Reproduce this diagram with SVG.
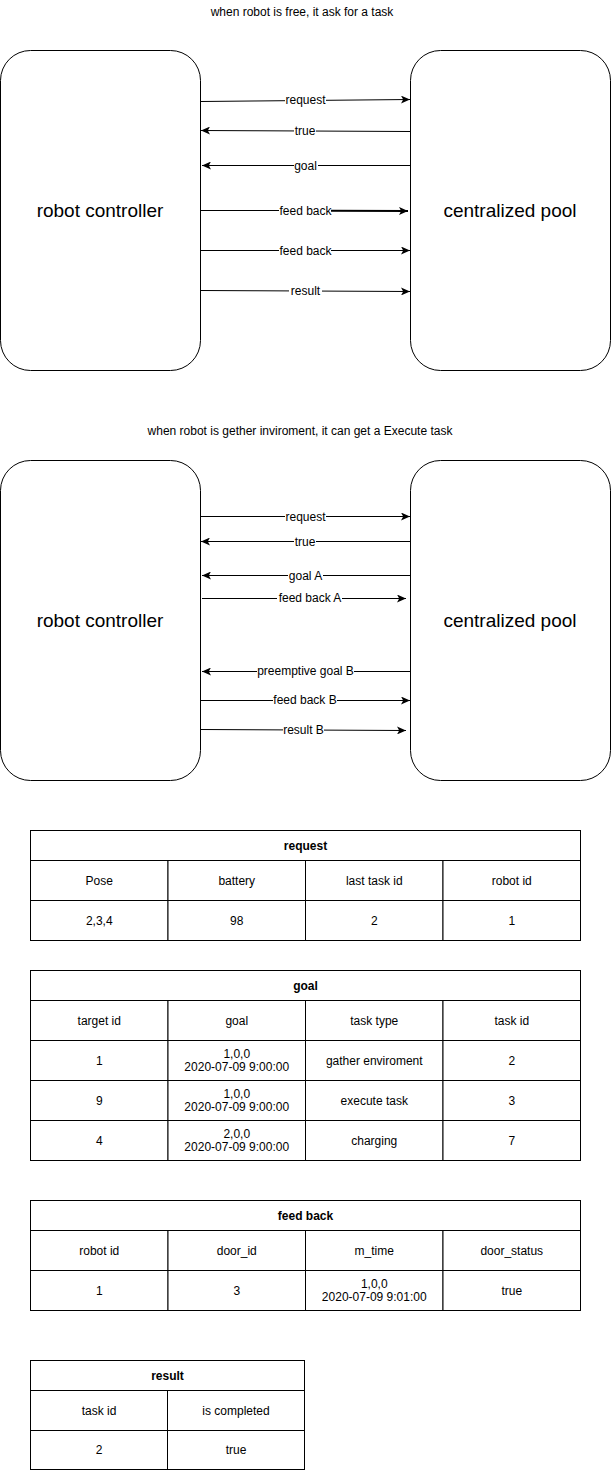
<svg xmlns="http://www.w3.org/2000/svg" width="611" height="1471" viewBox="0 0 611 1471">
<style>
text{font-family:"Liberation Sans",Arial,Helvetica,sans-serif;fill:#000;text-anchor:middle;dominant-baseline:central}
.t12{font-size:12px}
.big{font-size:19px}
.b{font-weight:bold}
.box{fill:#fff;stroke:#000;stroke-width:1}
.cell{fill:#fff;stroke:#000;stroke-width:1}
.edge{fill:none;stroke:#000;stroke-width:1}
.lbg{fill:#fff;stroke:none}
</style>
<defs>
<marker id="arr" viewBox="0 0 9 8" refX="9" refY="4" markerWidth="9" markerHeight="8" markerUnits="userSpaceOnUse" orient="auto">
<path d="M0,0 L9,4 L0,8 L2.2,4 Z" fill="#000"/>
</marker>
</defs>
<rect width="611" height="1471" fill="#fff"/>

<text class="t12" x="302" y="12">when robot is free, it ask for a task</text>
<text class="t12" x="300" y="431">when robot is gether inviroment, it can get a Execute task</text>

<g id="rc1"><rect class="box" x="0.5" y="50.5" width="200" height="320" rx="30" ry="30"/><text class="big" x="100" y="210">robot controller</text></g>
<g id="cp1"><rect class="box" x="410.5" y="50.5" width="200" height="320" rx="30" ry="30"/><text class="big" x="510" y="210">centralized pool</text></g>
<g id="rc2"><rect class="box" x="0.5" y="460.5" width="200" height="320" rx="30" ry="30"/><text class="big" x="100" y="620">robot controller</text></g>
<g id="cp2"><rect class="box" x="410.5" y="460.5" width="200" height="320" rx="30" ry="30"/><text class="big" x="510" y="620">centralized pool</text></g>

<g id="connectors">
<g id="e1"><path class="edge" d="M201,101.5 L410,99.5" marker-end="url(#arr)"/><rect class="lbg" x="285" y="94" width="41" height="12"/><text class="t12" x="305.5" y="100">request</text></g>
<g id="e2"><path class="edge" d="M410,131.5 L201,130.5" marker-end="url(#arr)"/><rect class="lbg" x="294" y="125" width="22" height="12"/><text class="t12" x="305" y="131">true</text></g>
<g id="e3"><path class="edge" d="M410,165.5 L202,165.5" marker-end="url(#arr)"/><rect class="lbg" x="294" y="159" width="24" height="12"/><text class="t12" x="305.5" y="165.5">goal</text></g>
<g id="e4"><path class="edge" d="M201,210.5 L280,210.5"/><path fill="none" stroke="#000" stroke-width="2" d="M330,210.8 L408,211" marker-end="url(#arr)"/><rect class="lbg" x="279" y="204" width="52" height="12"/><text class="t12" x="305.5" y="210.5">feed back</text></g>
<g id="e5"><path class="edge" d="M201,250.5 L410,250.5" marker-end="url(#arr)"/><rect class="lbg" x="279" y="244" width="52" height="12"/><text class="t12" x="305.5" y="250.5">feed back</text></g>
<g id="e6"><path class="edge" d="M201,290.5 L410,291.5" marker-end="url(#arr)"/><rect class="lbg" x="289" y="285" width="33" height="12"/><text class="t12" x="305.5" y="291">result</text></g>

<g id="f1"><path class="edge" d="M201,516.5 L410,516.5" marker-end="url(#arr)"/><rect class="lbg" x="285" y="510" width="41" height="12"/><text class="t12" x="305.5" y="516.5">request</text></g>
<g id="f2"><path class="edge" d="M410,541.5 L201,541.5" marker-end="url(#arr)"/><rect class="lbg" x="294" y="535" width="22" height="12"/><text class="t12" x="305" y="541.5">true</text></g>
<g id="f3"><path class="edge" d="M410,575.5 L202,575.5" marker-end="url(#arr)"/><rect class="lbg" x="288" y="569" width="35" height="12"/><text class="t12" x="305.5" y="575.5">goal A</text></g>
<g id="f4"><path class="edge" d="M202,598.5 L406,598.5" marker-end="url(#arr)"/><rect class="lbg" x="277" y="592" width="65" height="12"/><text class="t12" x="310" y="598">feed back A</text></g>
<g id="f5"><path class="edge" d="M410,671.5 L202,671.5" marker-end="url(#arr)"/><rect class="lbg" x="257" y="665" width="97" height="12"/><text class="t12" x="305.5" y="671">preemptive goal B</text></g>
<g id="f6"><path class="edge" d="M201,700.5 L410,700.5" marker-end="url(#arr)"/><rect class="lbg" x="273" y="694" width="64" height="12"/><text class="t12" x="305" y="700">feed back B</text></g>
<g id="f7"><path class="edge" d="M201,729.5 L406,730.5" marker-end="url(#arr)"/><rect class="lbg" x="283" y="724" width="41" height="12"/><text class="t12" x="303.5" y="730">result B</text></g>
</g>

<g id="table-request">
<rect class="cell" x="30.5" y="830.5" width="550" height="30"/>
<rect class="cell" x="30.5" y="860.5" width="137.5" height="40"/>
<rect class="cell" x="168" y="860.5" width="137.5" height="40"/>
<rect class="cell" x="305.5" y="860.5" width="137.5" height="40"/>
<rect class="cell" x="443" y="860.5" width="137.5" height="40"/>
<rect class="cell" x="30.5" y="900.5" width="137.5" height="40"/>
<rect class="cell" x="168" y="900.5" width="137.5" height="40"/>
<rect class="cell" x="305.5" y="900.5" width="137.5" height="40"/>
<rect class="cell" x="443" y="900.5" width="137.5" height="40"/>
<text class="t12 b" x="305.5" y="845.5">request</text>
<text class="t12" x="99.25" y="880.5">Pose</text>
<text class="t12" x="236.75" y="880.5">battery</text>
<text class="t12" x="374.25" y="880.5">last task id</text>
<text class="t12" x="511.75" y="880.5">robot id</text>
<text class="t12" x="99.25" y="920.5">2,3,4</text>
<text class="t12" x="236.75" y="920.5">98</text>
<text class="t12" x="374.25" y="920.5">2</text>
<text class="t12" x="511.75" y="920.5">1</text>
</g>

<g id="table-goal">
<rect class="cell" x="30.5" y="970.5" width="550" height="30"/>
<rect class="cell" x="30.5" y="1000.5" width="137.5" height="40"/>
<rect class="cell" x="168" y="1000.5" width="137.5" height="40"/>
<rect class="cell" x="305.5" y="1000.5" width="137.5" height="40"/>
<rect class="cell" x="443" y="1000.5" width="137.5" height="40"/>
<rect class="cell" x="30.5" y="1040.5" width="137.5" height="40"/>
<rect class="cell" x="168" y="1040.5" width="137.5" height="40"/>
<rect class="cell" x="305.5" y="1040.5" width="137.5" height="40"/>
<rect class="cell" x="443" y="1040.5" width="137.5" height="40"/>
<rect class="cell" x="30.5" y="1080.5" width="137.5" height="40"/>
<rect class="cell" x="168" y="1080.5" width="137.5" height="40"/>
<rect class="cell" x="305.5" y="1080.5" width="137.5" height="40"/>
<rect class="cell" x="443" y="1080.5" width="137.5" height="40"/>
<rect class="cell" x="30.5" y="1120.5" width="137.5" height="40"/>
<rect class="cell" x="168" y="1120.5" width="137.5" height="40"/>
<rect class="cell" x="305.5" y="1120.5" width="137.5" height="40"/>
<rect class="cell" x="443" y="1120.5" width="137.5" height="40"/>
<text class="t12 b" x="305.5" y="985.5">goal</text>
<text class="t12" x="99.25" y="1020.5">target id</text>
<text class="t12" x="236.75" y="1020.5">goal</text>
<text class="t12" x="374.25" y="1020.5">task type</text>
<text class="t12" x="511.75" y="1020.5">task id</text>
<text class="t12" x="99.25" y="1060.5">1</text>
<text class="t12" x="236.75" y="1054">1,0,0</text>
<text class="t12" x="236.75" y="1067">2020-07-09 9:00:00</text>
<text class="t12" x="374.25" y="1060.5">gather enviroment</text>
<text class="t12" x="511.75" y="1060.5">2</text>
<text class="t12" x="99.25" y="1100.5">9</text>
<text class="t12" x="236.75" y="1094">1,0,0</text>
<text class="t12" x="236.75" y="1107">2020-07-09 9:00:00</text>
<text class="t12" x="374.25" y="1100.5">execute task</text>
<text class="t12" x="511.75" y="1100.5">3</text>
<text class="t12" x="99.25" y="1140.5">4</text>
<text class="t12" x="236.75" y="1134">2,0,0</text>
<text class="t12" x="236.75" y="1147">2020-07-09 9:00:00</text>
<text class="t12" x="374.25" y="1140.5">charging</text>
<text class="t12" x="511.75" y="1140.5">7</text>
</g>

<g id="table-feedback">
<rect class="cell" x="30.5" y="1200.5" width="550" height="30"/>
<rect class="cell" x="30.5" y="1230.5" width="137.5" height="40"/>
<rect class="cell" x="168" y="1230.5" width="137.5" height="40"/>
<rect class="cell" x="305.5" y="1230.5" width="137.5" height="40"/>
<rect class="cell" x="443" y="1230.5" width="137.5" height="40"/>
<rect class="cell" x="30.5" y="1270.5" width="137.5" height="40"/>
<rect class="cell" x="168" y="1270.5" width="137.5" height="40"/>
<rect class="cell" x="305.5" y="1270.5" width="137.5" height="40"/>
<rect class="cell" x="443" y="1270.5" width="137.5" height="40"/>
<text class="t12 b" x="305.5" y="1215.5">feed back</text>
<text class="t12" x="99.25" y="1250.5">robot id</text>
<text class="t12" x="236.75" y="1250.5">door_id</text>
<text class="t12" x="374.25" y="1250.5">m_time</text>
<text class="t12" x="511.75" y="1250.5">door_status</text>
<text class="t12" x="99.25" y="1290.5">1</text>
<text class="t12" x="236.75" y="1290.5">3</text>
<text class="t12" x="374.25" y="1284">1,0,0</text>
<text class="t12" x="374.25" y="1297">2020-07-09 9:01:00</text>
<text class="t12" x="511.75" y="1290.5">true</text>
</g>

<g id="table-result">
<rect class="cell" x="30.5" y="1360.5" width="274" height="30"/>
<rect class="cell" x="30.5" y="1390.5" width="137" height="40"/>
<rect class="cell" x="167.5" y="1390.5" width="137" height="40"/>
<rect class="cell" x="30.5" y="1430.5" width="137" height="39"/>
<rect class="cell" x="167.5" y="1430.5" width="137" height="39"/>
<text class="t12 b" x="167.5" y="1375.5">result</text>
<text class="t12" x="99" y="1410.5">task id</text>
<text class="t12" x="236" y="1410.5">is completed</text>
<text class="t12" x="99" y="1450">2</text>
<text class="t12" x="236" y="1450">true</text>
</g>
</svg>
